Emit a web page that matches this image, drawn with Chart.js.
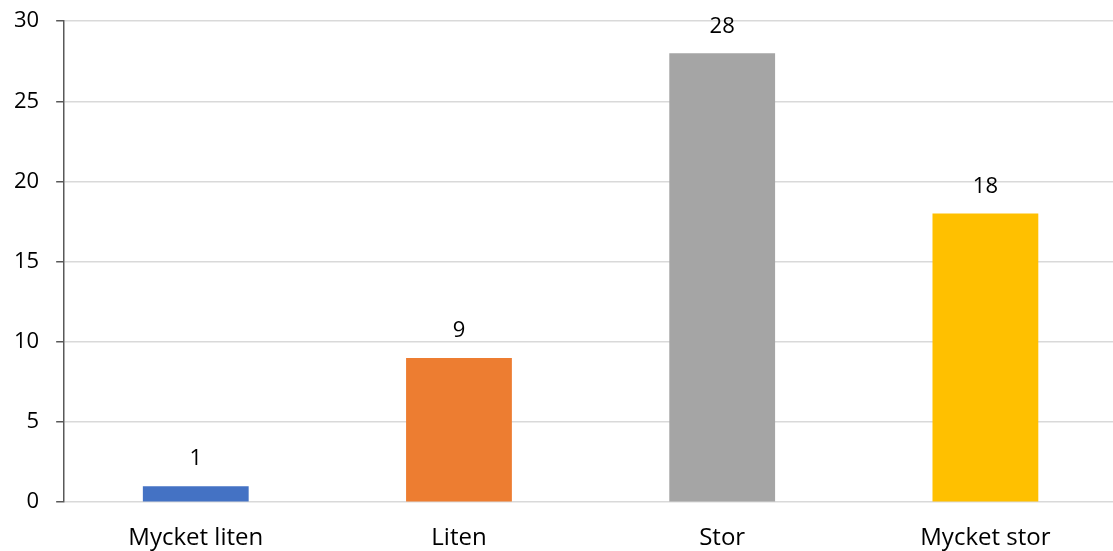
<!DOCTYPE html>
<html>
<head>
<meta charset="utf-8">
<script src="https://cdn.jsdelivr.net/npm/chart.js@4/dist/chart.umd.min.js"></script>
<style>
  html, body { margin: 0; padding: 0; background: #fff; overflow: hidden; }
  #wrap { width: 1120px; height: 576px; margin-left: -3px; margin-top: -9px; }
</style>
</head>
<body>
<div id="wrap"><canvas id="graf"></canvas></div>
<script>
// Data
const kategorier = ["Mycket liten", "Liten", "Stor", "Mycket stor"];
const antal = [1, 9, 28, 18];
const farger = ["#4472c4", "#ed7d31", "#a5a5a5", "#ffc000"];

// Etiketter ovanför staplarna
const etikettPlugin = {
  id: "etiketter",
  afterDatasetsDraw(chart) {
    const ctx = chart.ctx;
    const meta = chart.getDatasetMeta(0);
    ctx.save();
    ctx.font = "22px 'Open Sans'";
    ctx.fillStyle = "#000";
    ctx.textAlign = "center";
    ctx.textBaseline = "middle";
    meta.data.forEach((bar, i) => {
      ctx.fillText(String(antal[i]), bar.x, bar.y - 27);
    });
    ctx.restore();
  }
};

new Chart(document.getElementById("graf"), {
  type: "bar",
  data: {
    labels: kategorier,
    datasets: [{
      data: antal,
      backgroundColor: farger,
      barPercentage: 0.402,
      categoryPercentage: 1
    }]
  },
  options: {
    responsive: true,
    maintainAspectRatio: false,
    animation: false,
    layout: { padding: { top: 3, left: 0, right: 0, bottom: 0 } },
    plugins: { legend: { display: false }, tooltip: { enabled: false } },
    scales: {
      x: {
        grid: { display: false },
        border: { display: false },
        ticks: { color: "#000", font: { family: "Open Sans", size: 24 }, padding: 14 }
      },
      y: {
        min: 0,
        max: 30,
        ticks: { stepSize: 5, color: "#000", font: { family: "Open Sans", size: 22 }, padding: 17 },
        grid: { color: "#d9d9d9", lineWidth: 1.5, tickLength: 8, tickColor: "#595959" },
        border: { color: "#595959", width: 1.5 }
      }
    }
  },
  plugins: [etikettPlugin]
});
</script>
</body>
</html>
